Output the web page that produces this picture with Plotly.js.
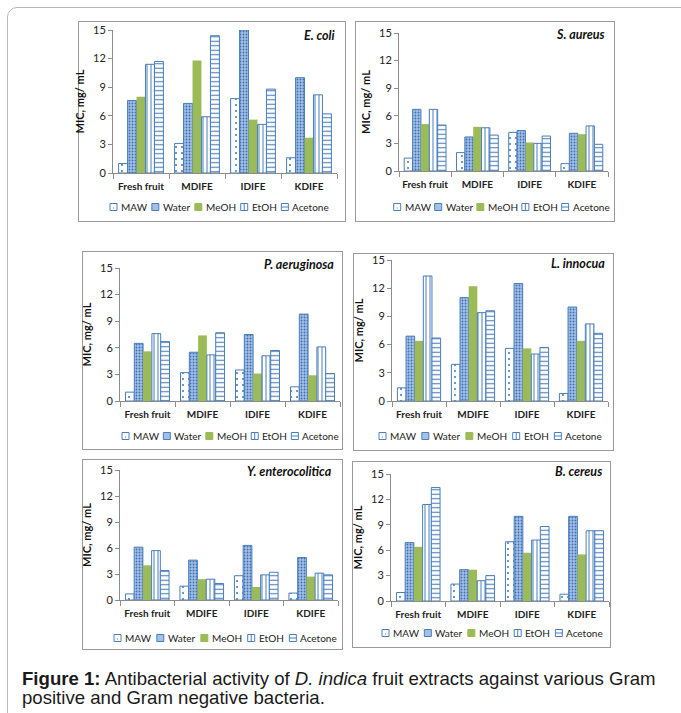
<!DOCTYPE html>
<html><head><meta charset="utf-8">
<script src="https://cdn.plot.ly/plotly-3.0.1.min.js"></script>
<style>
html,body{margin:0;padding:0;width:681px;height:713px;overflow:hidden;background:#fff;}
#frame{position:absolute;left:7px;top:7px;width:700px;height:720px;border:1px solid #b8b8b8;border-radius:10px;box-sizing:border-box;}
.box{position:absolute;border:1px solid #9a9a9a;box-sizing:border-box;background:#fff;}
.plot{position:absolute;}
#caption{position:absolute;left:22px;top:669px;white-space:nowrap;font-family:"Liberation Sans",Arial,sans-serif;font-size:18.6px;line-height:19px;color:#1a1a1a;}
</style></head><body>
<div id="frame"></div>
<div id="caption"><b>Figure 1:</b> Antibacterial activity of <i>D. indica</i> fruit extracts against various Gram<br>positive and Gram negative bacteria.</div>
<script>
const categories = ['Fresh fruit','MDIFE','IDIFE','KDIFE'];
const seriesNames = ['MAW','Water','MeOH','EtOH','Acetone'];
const yTicks = [0,3,6,9,12,15];
const yAxisTitle = 'MIC, mg/ mL';

// E. coli
const eColi_MAW     = [1.0, 3.1, 7.8, 1.6];
const eColi_Water   = [7.6, 7.3, 15.0, 10.0];
const eColi_MeOH    = [8.0, 11.8, 5.6, 3.7];
const eColi_EtOH    = [11.4, 5.9, 5.1, 8.2];
const eColi_Acetone = [11.7, 14.4, 8.8, 6.2];
// S. aureus
const sAureus_MAW     = [1.4, 2.0, 4.2, 0.8];
const sAureus_Water   = [6.7, 3.7, 4.4, 4.1];
const sAureus_MeOH    = [5.1, 4.8, 3.1, 4.0];
const sAureus_EtOH    = [6.7, 4.7, 3.0, 4.9];
const sAureus_Acetone = [5.0, 3.9, 3.8, 2.9];
// P. aeruginosa
const pAer_MAW     = [1.0, 3.2, 3.5, 1.6];
const pAer_Water   = [6.5, 5.5, 7.5, 9.8];
const pAer_MeOH    = [5.6, 7.4, 3.1, 2.9];
const pAer_EtOH    = [7.6, 5.2, 5.1, 6.1];
const pAer_Acetone = [6.7, 7.7, 5.7, 3.1];
// L. innocua
const lInn_MAW     = [1.4, 3.9, 5.6, 0.8];
const lInn_Water   = [6.9, 11.0, 12.5, 10.0];
const lInn_MeOH    = [6.4, 12.2, 5.6, 6.4];
const lInn_EtOH    = [13.3, 9.4, 5.0, 8.2];
const lInn_Acetone = [6.7, 9.6, 5.7, 7.2];
// Y. enterocolitica
const yEnt_MAW     = [0.7, 1.6, 2.8, 0.8];
const yEnt_Water   = [6.1, 4.6, 6.3, 4.9];
const yEnt_MeOH    = [4.0, 2.4, 1.5, 2.7];
const yEnt_EtOH    = [5.7, 2.4, 2.9, 3.1];
const yEnt_Acetone = [3.4, 1.9, 3.2, 2.9];
// B. cereus
const bCer_MAW     = [1.0, 2.0, 7.0, 0.8];
const bCer_Water   = [6.9, 3.7, 10.0, 10.0];
const bCer_MeOH    = [6.4, 3.7, 5.7, 5.5];
const bCer_EtOH    = [11.4, 2.4, 7.2, 8.3];
const bCer_Acetone = [13.4, 3.0, 8.8, 8.3];

const BLUE = '#4a7ebb';
const GREEN = '#9bbb59';
const styles = {
  MAW:     {fill:'#ffffff', line:BLUE, lw:1, pattern:{shape:'.', fgcolor:BLUE, bgcolor:'#ffffff', size:6, solidity:0.1}},
  Water:   {fill:'#a3c0e8', line:BLUE, lw:1, pattern:{shape:'.', fgcolor:'#3f6fb0', bgcolor:'#a3c0e8', size:3, solidity:0.3}},
  MeOH:    {fill:GREEN, line:GREEN, lw:0, pattern:null},
  EtOH:    {fill:'#ffffff', line:BLUE, lw:1, pattern:{shape:'|', fgcolor:BLUE, bgcolor:'#ffffff', size:4, solidity:0.25}},
  Acetone: {fill:'#ffffff', line:BLUE, lw:1, pattern:{shape:'-', fgcolor:BLUE, bgcolor:'#ffffff', size:4.5, solidity:0.25}}
};

const panels = [
  {title:'E. coli', series:[eColi_MAW,eColi_Water,eColi_MeOH,eColi_EtOH,eColi_Acetone],
   box:[78,21,268,201], m:[35,9,9,49], titlePos:[337,35], legend:[34,219,218]},
  {title:'S. aureus', series:[sAureus_MAW,sAureus_Water,sAureus_MeOH,sAureus_EtOH,sAureus_Acetone],
   box:[355,21,260,201], m:[44,7,12,51], titlePos:[607,35], legend:[36,501,208]},
  {title:'P. aeruginosa', series:[pAer_MAW,pAer_Water,pAer_MeOH,pAer_EtOH,pAer_Acetone],
   box:[82,251,261,199], m:[38,3,17,49], titlePos:[336,264], legend:[35,230,216]},
  {title:'L. innocua', series:[lInn_MAW,lInn_Water,lInn_MeOH,lInn_EtOH,lInn_Acetone],
   box:[353,253,261,198], m:[39,6,7,50], titlePos:[607,263], legend:[35,490,222]},
  {title:'Y. enterocolitica', series:[yEnt_MAW,yEnt_Water,yEnt_MeOH,yEnt_EtOH,yEnt_Acetone],
   box:[82,459,261,191], m:[38,5,11,50], titlePos:[334,472], legend:[38,225,222]},
  {title:'B. cereus', series:[bCer_MAW,bCer_Water,bCer_MeOH,bCer_EtOH,bCer_Acetone],
   box:[352,461,259,187], m:[39,2,13,47], titlePos:[604,471], legend:[32,492,220]}
];

const canvas = document.createElement('canvas');
const ctx = canvas.getContext('2d');
const LEG_FONT = 10;
ctx.font = LEG_FONT + 'px Lato';
const PAD = 10;

panels.forEach((p, i) => {
  const [bx,by,bw,bh] = p.box; const [ml,mr,mt,mb] = p.m;
  const pw = bw-ml-mr, ph = bh-mt-mb;
  const plotL = bx+ml, plotT = by+mt;
  const X = px => (px-plotL)/pw;
  const Y = py => 1-(py-plotT)/ph;

  const boxDiv = document.createElement('div');
  boxDiv.className='box';
  Object.assign(boxDiv.style,{left:bx+'px',top:by+'px',width:bw+'px',height:bh+'px'});
  document.body.appendChild(boxDiv);
  const div = document.createElement('div');
  div.className='plot'; div.id='plot'+i;
  Object.assign(div.style,{left:(bx-PAD)+'px',top:(by-PAD)+'px',width:(bw+2*PAD)+'px',height:(bh+2*PAD)+'px'});
  document.body.appendChild(div);

  const traces = seriesNames.map((name, k) => {
    const s = styles[name];
    const marker = {color:s.fill, line:{color:s.line, width:s.lw}};
    if (s.pattern) marker.pattern = Object.assign({fillmode:'replace'}, s.pattern);
    return {type:'bar', name:name, x:categories, y:p.series[k], marker:marker, hoverinfo:'skip'};
  });

  const shapes = [], annotations = [];
  annotations.push({xref:'paper', yref:'paper', x:X(p.titlePos[0]), y:Y(p.titlePos[1]),
    xanchor:'right', yanchor:'middle', showarrow:false,
    text:'<b><i>'+p.title+'</i></b>', font:{family:'Lato', size:12.5, color:'#111'}});

  // legend (drawn as shapes + text)
  const [legOff, legCenter, legWidth] = p.legend;
  const SQ = 7, G1 = 3;
  const widths = seriesNames.map(n => ctx.measureText(n).width);
  const textSum = widths.reduce((a,b)=>a+b,0);
  const G2 = Math.max(5, (legWidth - textSum - seriesNames.length*(SQ+G1)) / (seriesNames.length-1));
  const total = textSum + seriesNames.length*(SQ+G1) + (seriesNames.length-1)*G2;
  let cx = legCenter - total/2;
  const ly = plotT + ph + legOff;
  seriesNames.forEach((name, k) => {
    const s = styles[name];
    const x0 = cx, x1 = cx+SQ, y0 = ly-SQ/2, y1 = ly+SQ/2;
    shapes.push({type:'rect', xref:'paper', yref:'paper', x0:X(x0), x1:X(x1), y0:Y(y1), y1:Y(y0),
      fillcolor: s.fill, line:{color: name==='MeOH' ? GREEN : BLUE, width:1}});
    if (name==='EtOH') {
      shapes.push({type:'line', xref:'paper', yref:'paper', x0:X(x0+SQ/2), x1:X(x0+SQ/2), y0:Y(y1), y1:Y(y0), line:{color:BLUE,width:1}});
    }
    if (name==='Acetone') {
      shapes.push({type:'line', xref:'paper', yref:'paper', x0:X(x0), x1:X(x1), y0:Y(ly), y1:Y(ly), line:{color:BLUE,width:1}});
    }
    if (name==='MAW') {
      shapes.push({type:'rect', xref:'paper', yref:'paper', x0:X(x0+3), x1:X(x0+4), y0:Y(ly+1.5), y1:Y(ly+0.5), fillcolor:BLUE, line:{width:0}});
    }
    annotations.push({xref:'paper', yref:'paper', x:X(x1+G1), y:Y(ly), xanchor:'left', yanchor:'middle',
      showarrow:false, text:name, borderpad:0, font:{family:'Lato', size:LEG_FONT, color:'#222'}});
    cx = x1 + G1 + widths[k] + G2;
  });

  const layout = {
    width:bw+2*PAD, height:bh+2*PAD, margin:{l:ml+PAD, r:mr+PAD, t:mt+PAD, b:mb+PAD, pad:0},
    paper_bgcolor:'rgba(0,0,0,0)', plot_bgcolor:'rgba(0,0,0,0)',
    barmode:'group', bargap:0.2, bargroupgap:0, showlegend:false,
    font:{family:'Lato', color:'#222'},
    xaxis:{type:'category', categoryorder:'array', categoryarray:categories, range:[-0.5,3.5],
      showline:true, linecolor:'#8c8c8c', linewidth:1, ticks:'outside', tickson:'boundaries',
      ticklen:5, tickcolor:'#8c8c8c', showgrid:false, zeroline:false, fixedrange:true, tickangle:0,
      ticklabelstandoff:4,
      tickfont:{family:'Lato', size:10, color:'#222', weight:'bold'}},
    yaxis:{range:[0,15], tickvals:yTicks, ticktext:yTicks.map(String),
      showline:true, linecolor:'#8c8c8c', linewidth:1, ticks:'outside', ticklen:4, tickcolor:'#8c8c8c',
      showgrid:false, zeroline:false, fixedrange:true, ticklabeloverflow:'allow',
      tickfont:{family:'Lato', size:11, color:'#222'},
      title:{text:'<b>'+yAxisTitle+'</b>', font:{family:'Lato', size:11, color:'#111'}, standoff:6}},
    shapes:shapes, annotations:annotations
  };
  Plotly.newPlot(div, traces, layout, {staticPlot:true, displayModeBar:false});
});
</script>
</body></html>
